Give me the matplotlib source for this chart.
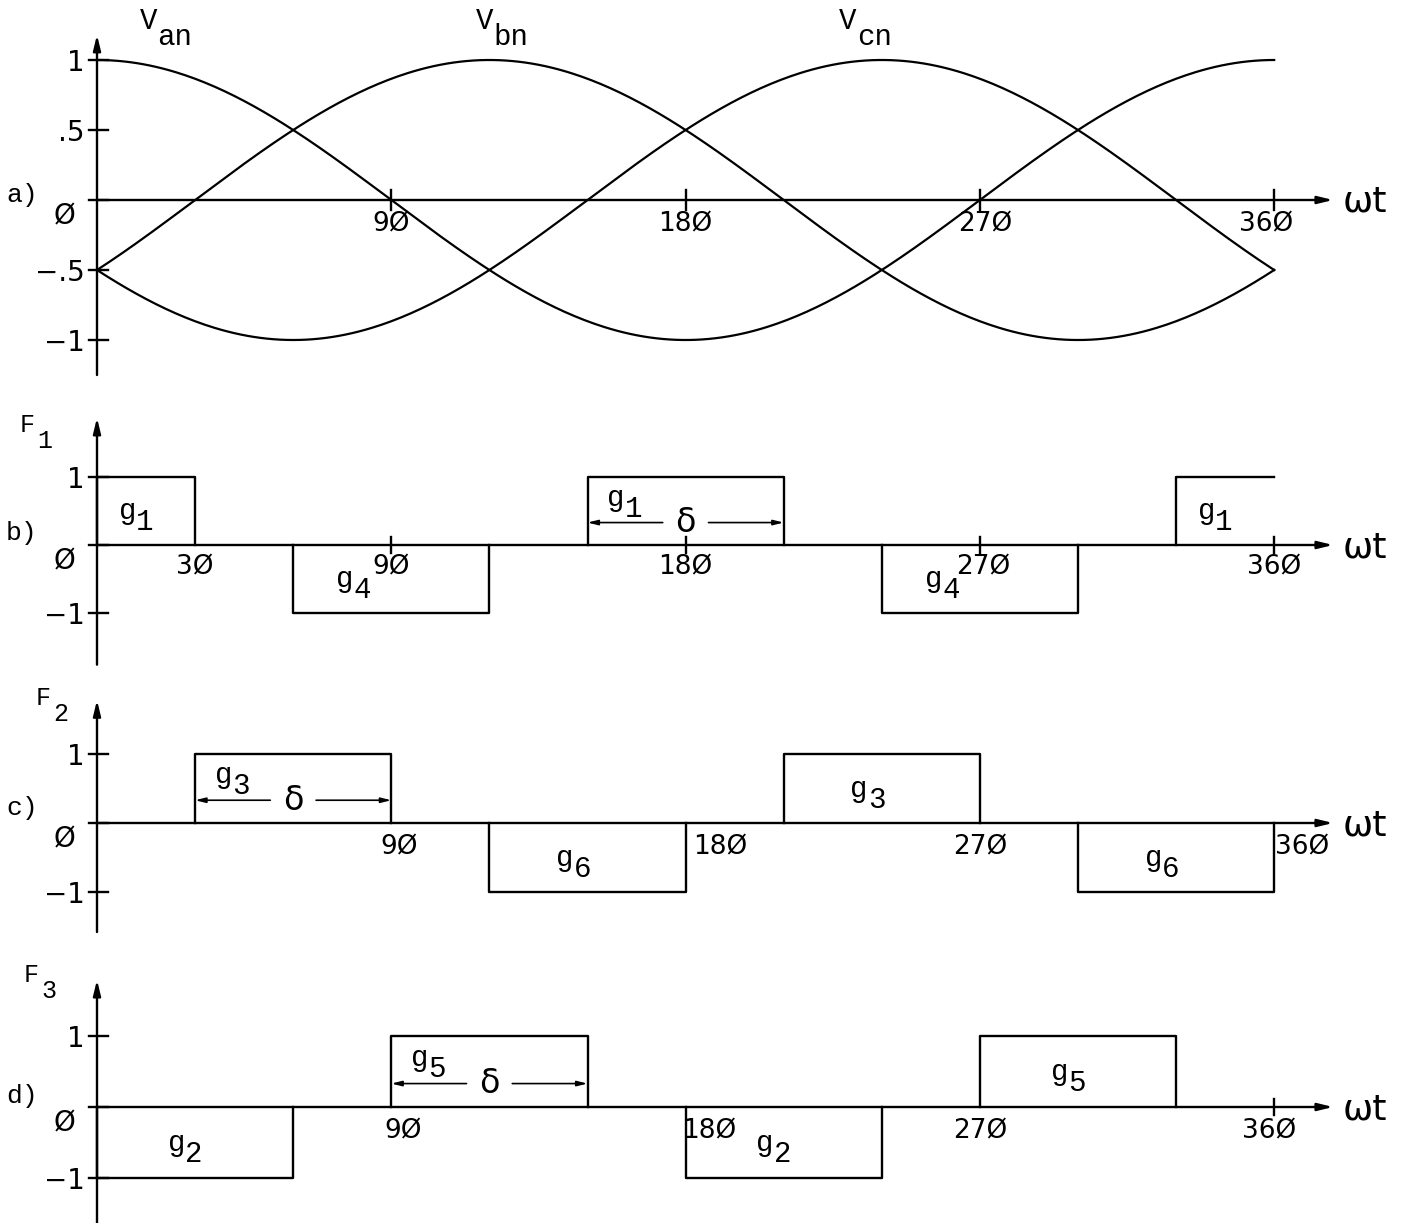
import numpy as np
import matplotlib.pyplot as plt

W, H = 1416, 1223
X0_PX = 97          # pixel column of wt = 0
PX_PER_DEG = 3.27

# three-phase reference voltages
phase_names = ['an', 'bn', 'cn']
phase_shift = [0, 120, 240]
amplitude = 1.0
wt = np.arange(0, 361)

# switching functions: pulse start, pulse end, level, gate number
f1_start = [0, 60, 150, 240, 330]
f1_end = [30, 120, 210, 300, 360]
f1_level = [1, -1, 1, -1, 1]
f1_gate = ['1', '4', '1', '4', '1']

f2_start = [30, 120, 210, 300]
f2_end = [90, 180, 270, 360]
f2_level = [1, -1, 1, -1]
f2_gate = ['3', '6', '3', '6']

f3_start = [0, 90, 180, 270]
f3_end = [60, 150, 240, 330]
f3_level = [-1, 1, -1, 1]
f3_gate = ['2', '5', '2', '5']

a_yticks = [1, 0.5, 0, -0.5, -1]
a_ylabels = ['1', '.5', 'Ø', '−.5', '−1']
pulse_yticks = [1, 0, -1]
pulse_ylabels = ['1', 'Ø', '−1']
a_xticks = [90, 180, 270, 360]
a_xlabels = ['9Ø', '18Ø', '27Ø', '36Ø']
b_xticks = [30, 90, 180, 270, 360]
b_xlabels = ['3Ø', '9Ø', '18Ø', '27Ø', '36Ø']

MONO = 'Liberation Mono'
NUM = 'DejaVu Sans'
LW = 1.7

fig = plt.figure(figsize=(W / 100, H / 100), dpi=100)


def panel(top, bot, zero, scale):
    ax = fig.add_axes([0, 1 - bot / H, 1, (bot - top) / H])
    ax.set_xlim(-X0_PX / PX_PER_DEG, (W - X0_PX) / PX_PER_DEG)
    ax.set_ylim((zero - bot) / scale, (zero - top) / scale)
    ax.axis('off')
    ax.scale = scale
    return ax


def axes_lines(ax, ytop, ybot):
    arrow = dict(arrowstyle='-|>,head_length=0.9,head_width=0.22',
                 lw=LW, color='k', shrinkA=0, shrinkB=0)
    ax.annotate('', xy=(0, ytop), xytext=(0, ybot), arrowprops=arrow,
                annotation_clip=False)
    ax.annotate('', xy=(378, 0), xytext=(0, 0), arrowprops=arrow,
                annotation_clip=False)
    ax.annotate('ωt', xy=(378, 0), xytext=(10, -2), textcoords='offset pixels',
                ha='left', va='center', fontsize=26, family=NUM)


def yticks(ax, vals, labels):
    for v, lab in zip(vals, labels):
        ax.plot([-2.5, 3.5], [v, v], color='k', lw=LW, clip_on=False)
        dy = -16 if v == 0 else -3
        dx = -22 if v == 0 else -12
        ax.annotate(lab, xy=(0, v), xytext=(dx, dy), textcoords='offset pixels',
                    ha='right', va='center', fontsize=20, family=NUM)


def xticklabels(ax, vals, labels, shifts=None, drop=24):
    shifts = shifts or [0] * len(vals)
    for v, lab, sx in zip(vals, labels, shifts):
        ax.annotate(lab, xy=(v, 0), xytext=(sx, -drop), textcoords='offset pixels',
                    ha='center', va='center', fontsize=19, family=NUM)


def xtickmarks(ax, vals, half_px=10):
    h = half_px / ax.scale
    for v in vals:
        ax.plot([v, v], [-h, h], color='k', lw=LW, clip_on=False)


def sub_text(ax, x, y, base, sub, fs, drop):
    ax.text(x, y, base, ha='left', va='baseline', fontsize=fs, family=MONO)
    ax.annotate(sub, xy=(x, y), xytext=(len(base) * 0.6 * fs * 100 / 72, -drop),
                textcoords='offset pixels', ha='left', va='baseline',
                fontsize=fs, family=MONO)


def pulses(ax, starts, ends, levels, gates, delta_idx, frac=0.23, open_last=False):
    n = len(starts)
    for i, (s, e, lv, g) in enumerate(zip(starts, ends, levels, gates)):
        if open_last and i == n - 1:
            ax.plot([s, s, e], [0, lv, lv], color='k', lw=LW, clip_on=False)
        else:
            ax.plot([s, s, e, e], [0, lv, lv, 0], color='k', lw=LW, clip_on=False)
        if i == delta_idx:
            gx, gy = s + 0.1 * (e - s), 0.58 * lv
        else:
            gx, gy = s + frac * (e - s), 0.5 * lv - 0.12
        sub_text(ax, gx, gy, 'g', g, 21, 11)
    # delta width marker on one pulse
    s, e = starts[delta_idx], ends[delta_idx]
    mid, yd = (s + e) / 2, 0.33
    head = dict(arrowstyle='-|>,head_length=0.6,head_width=0.15', lw=1.2,
                color='k', shrinkA=0, shrinkB=0)
    ax.annotate('', xy=(s, yd), xytext=(mid - 7, yd), arrowprops=head)
    ax.annotate('', xy=(e, yd), xytext=(mid + 7, yd), arrowprops=head)
    ax.text(mid, yd, 'δ', ha='center', va='center', fontsize=24, family=NUM)


# a) phase voltages
ax_a = panel(0, 392, 200, 140)
for name, ph in zip(phase_names, phase_shift):
    ax_a.plot(wt, amplitude * np.cos(np.radians(wt - ph)), color='k', lw=1.6)
for name, ph, dx in zip(phase_names, phase_shift, [13, -4, -13]):
    sub_text(ax_a, ph + dx, 1.22, 'V', name, 21, 16)
axes_lines(ax_a, 1.18, -1.25)
yticks(ax_a, a_yticks, a_ylabels)
xtickmarks(ax_a, a_xticks)
xticklabels(ax_a, a_xticks, a_xlabels, [0, 0, 5, -8])

# b) F1
ax_b = panel(392, 685, 545, 68)
pulses(ax_b, f1_start, f1_end, f1_level, f1_gate, 2, 0.22, open_last=True)
axes_lines(ax_b, 1.87, -1.76)
yticks(ax_b, pulse_yticks, pulse_ylabels)
xtickmarks(ax_b, b_xticks[1:], 8)
xticklabels(ax_b, b_xticks, b_xlabels, [0, 0, 0, 3, 0], 22)

# c) F2
ax_c = panel(685, 952, 823, 69)
pulses(ax_c, f2_start, f2_end, f2_level, f2_gate, 0, 0.34)
axes_lines(ax_c, 1.78, -1.58)
yticks(ax_c, pulse_yticks, pulse_ylabels)
xticklabels(ax_c, a_xticks, a_xlabels, [8, 35, 0, 28], 24)

# d) F3
ax_d = panel(952, 1223, 1107, 71)
pulses(ax_d, f3_start, f3_end, f3_level, f3_gate, 1, 0.36)
axes_lines(ax_d, 1.79, -1.7)
yticks(ax_d, pulse_yticks, pulse_ylabels)
xtickmarks(ax_d, [360], 8)
xticklabels(ax_d, a_xticks, a_xlabels, [12, 24, 0, -5], 24)

# panel tags and switching function names
for tag, y in zip(['a)', 'b)', 'c)', 'd)'], [195, 533, 808, 1096]):
    fig.text(22 / W, 1 - y / H, tag, ha='center', va='center', fontsize=19, family=MONO)
for num, (x, y) in zip(['1', '2', '3'], [(20, 432), (36, 705), (24, 982)]):
    fig.text(x / W, 1 - y / H, 'F', ha='left', va='baseline', fontsize=18, family=MONO)
    fig.text((x + 17) / W, 1 - (y + 16) / H, num, ha='left', va='baseline',
             fontsize=18, family=MONO)

fig.savefig('out.png', dpi=100, facecolor='white')
